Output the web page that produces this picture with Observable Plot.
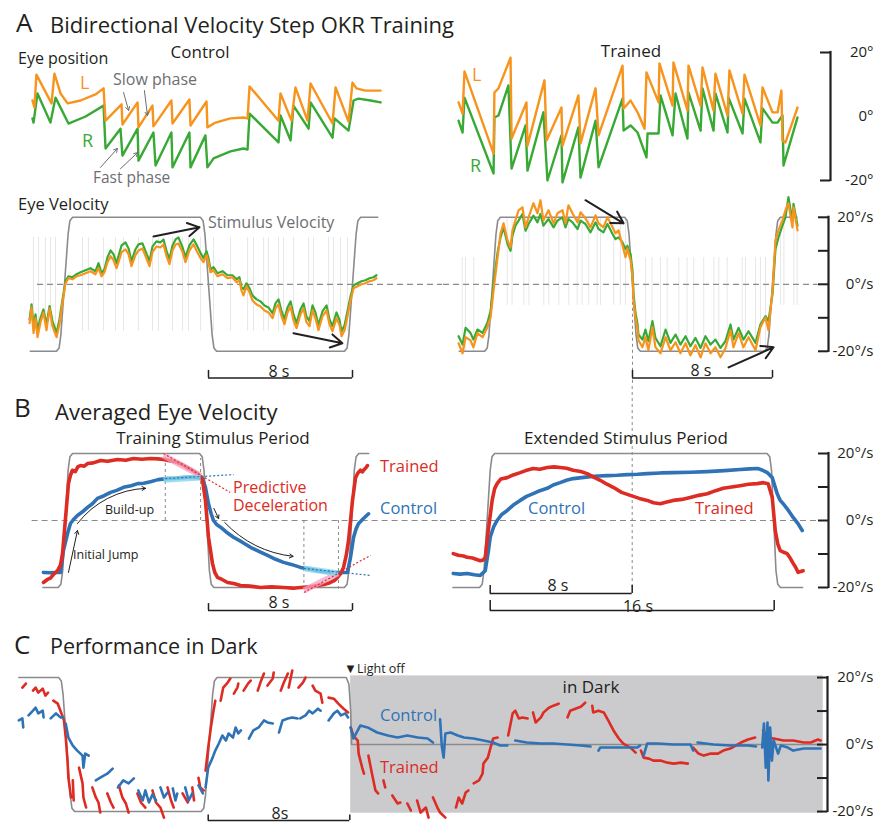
<!DOCTYPE html>
<html><head><meta charset="utf-8">
<script src="https://cdn.jsdelivr.net/npm/d3@7"></script>
<script src="https://cdn.jsdelivr.net/npm/@observablehq/plot@0.6"></script>
<style>
body{margin:0;background:#fff;}
#fig{position:relative;width:878px;height:823px;overflow:hidden;background:#fff;font-family:'Open Sans',sans-serif;color:#231f20;}
#fig svg{position:absolute;}
.t{position:absolute;white-space:pre;line-height:1;}
</style></head><body><div id="fig"></div>
<script>
// ---------- colours ----------
const INK='#231f20', ORANGE='#f7941d', GREEN='#39a935', RED='#dd2c24', BLUE='#2f73b6',
      STIM='#8a8b8d', GRAYTXT='#6d6e71', RAW='#e7e7e7', DARK='#cbcbce', PINK='#f5a0c4', CYAN='#86d6ee';

// ---------- A: eye position (time s, position deg) ----------
const posCtlL=[[-1.78,5.0],[-1.67,2.8],[-1.56,13.1],[-0.72,4.1],[-0.56,13.4],[-0.22,7.2],[0.17,4.1],[0.89,5.0],[1.72,6.9],[2.17,8.8],[2.28,-1.3],[3.17,3.8],[3.22,-2.5],[4.06,4.4],[4.11,-3.4],[4.89,3.4],[4.94,-3.1],[5.94,5.0],[6.0,-2.2],[6.94,5.3],[7.0,-2.8],[7.89,4.7],[7.94,-3.4],[8.39,-1.9],[9.22,-0.6],[9.94,-0.3],[10.17,-0.6],[10.28,9.4],[11.89,-1.3],[12.0,7.2],[12.61,-1.3],[12.83,9.1],[13.5,-1.3],[13.67,10.3],[14.89,-2.2],[15.06,9.1],[15.78,-1.6],[16.0,10.6],[16.22,8.8],[16.72,8.1],[17.56,8.1]];
const posCtlR=[[-1.78,-0.6],[-1.72,-1.9],[-1.5,7.2],[-0.78,-1.9],[-0.5,5.9],[0.22,-2.2],[1.17,0],[2.17,3.4],[2.28,-10.0],[3.11,-3.8],[3.22,-12.2],[4.06,-3.8],[4.11,-13.8],[4.94,-5.0],[5.06,-15.3],[5.94,-5.0],[6.0,-15.9],[6.94,-5.0],[7.0,-15.9],[7.83,-5.9],[7.94,-15.9],[8.28,-13.1],[9.22,-10.9],[9.94,-10.0],[10.17,-10.3],[10.28,0.9],[11.89,-8.1],[12.0,0.3],[12.56,-7.5],[12.72,3.4],[13.56,-3.8],[13.67,4.4],[14.89,-6.6],[15.0,-0.6],[15.78,-4.4],[16.06,5.0],[16.33,5.6],[17.0,5.0],[17.56,4.4]];
const posTrnL=[[-1.94,4.4],[-1.71,0.9],[-1.6,14.1],[0.06,-11.6],[0.11,7.5],[0.34,8.8],[1.03,18.4],[1.09,-6.9],[1.94,4.4],[2.0,-9.1],[2.97,11.3],[3.09,-7.5],[3.94,2.8],[4.0,-9.1],[4.91,6.6],[5.03,-8.4],[5.89,8.8],[6.06,-5.9],[7.43,15.9],[7.49,2.5],[7.89,5.0],[8.29,1.3],[8.69,-3.8],[8.8,13.8],[9.49,4.4],[9.54,16.6],[10.29,3.4],[10.34,16.9],[11.14,1.9],[11.2,15.9],[11.89,3.4],[12.0,15.3],[12.63,1.9],[12.74,13.4],[13.43,0.3],[13.54,14.4],[14.29,0.9],[14.4,13.1],[15.31,-2.8],[15.43,9.1],[16.0,1.3],[16.29,1.3],[16.51,8.1],[16.57,-7.5],[16.74,-8.1],[17.43,2.8]];
const posTrnR=[[-1.94,-1.3],[-1.71,-5.0],[-1.6,5.9],[0.06,-17.8],[0.11,-0.3],[0.34,0.3],[0.91,9.7],[1.09,-16.3],[1.89,-2.8],[2.0,-16.9],[2.91,1.3],[3.14,-20.0],[3.94,-5.9],[4.0,-20.6],[4.91,-3.4],[5.03,-19.1],[5.89,-1.3],[6.06,-15.9],[7.43,5.6],[7.49,-4.4],[7.89,-2.8],[8.29,-5.0],[8.8,-12.8],[8.86,-5.3],[9.49,-5.3],[9.6,6.6],[10.29,-5.9],[10.46,7.2],[11.14,-6.9],[11.2,7.5],[11.89,-4.4],[12.0,8.8],[12.63,-4.4],[12.74,7.2],[13.43,-5.0],[13.49,5.9],[14.29,-5.3],[14.4,5.6],[15.31,-8.1],[15.43,2.5],[16.0,-1.9],[16.29,-1.9],[16.57,0.3],[16.63,-15.3],[17.43,-0.3]];
const posArrows=[{x1:3.28,y1:7.5,x2:3.56,y2:1.9},{x1:4.44,y1:8.1,x2:4.61,y2:0.3},{x1:2.0,y1:-15.9,x2:2.94,y2:-10.0},{x1:3.11,y1:-16.3,x2:4.06,y2:-11.3}];
const posTicks=[20,-20], posLabels=[20,0,-20];

// ---------- A: eye velocity (time s, deg/s) ----------
const stimA=[[-1.9,-20],[-0.45,-20],[-0.3,-19],[-0.2,-15],[0.2,15],[0.3,19],[0.45,20],[7.55,20],[7.7,19],[7.8,15],[8.2,-15],[8.3,-19],[8.45,-20],[15.55,-20],[15.7,-19],[15.8,-15],[16.2,15],[16.3,19],[16.45,20],[17.4,20]];
const velCtlO=[[-1.94,-11.6],[-1.83,-6.9],[-1.72,-14.6],[-1.61,-10.1],[-1.5,-15.8],[-1.33,-11.3],[-1.17,-8.4],[-1.0,-13.7],[-0.83,-7.2],[-0.67,-12.5],[-0.44,-15.8],[-0.28,-11.9],[-0.11,-5.4],[0.06,0.3],[0.22,1.8],[0.44,1.5],[0.67,2.4],[0.89,2.7],[1.17,3.3],[1.44,3.9],[1.72,3.0],[1.89,4.8],[2.06,2.4],[2.22,3.6],[2.39,6.6],[2.56,8.4],[2.72,7.2],[2.89,4.8],[3.0,6.6],[3.17,9.6],[3.39,10.4],[3.56,9.0],[3.72,5.4],[3.94,8.7],[4.11,10.1],[4.33,10.7],[4.5,8.4],[4.72,5.4],[4.89,9.6],[5.11,11.3],[5.33,11.0],[5.5,11.9],[5.67,8.4],[5.83,6.0],[6.0,10.1],[6.17,11.9],[6.33,12.2],[6.56,9.6],[6.72,6.6],[6.94,10.1],[7.17,11.9],[7.33,10.1],[7.56,7.8],[7.72,6.6],[7.89,8.7],[8.0,6.6],[8.11,3.6],[8.28,4.2],[8.5,2.4],[8.78,3.0],[9.06,1.8],[9.33,2.1],[9.56,0.6],[9.72,1.2],[9.83,-1.8],[9.94,-3.3],[10.11,-0.6],[10.28,-2.4],[10.44,-4.8],[10.67,-6.0],[10.89,-6.6],[11.11,-7.8],[11.33,-8.4],[11.56,-10.1],[11.72,-7.2],[11.89,-6.0],[12.06,-9.6],[12.22,-11.9],[12.39,-8.4],[12.56,-6.6],[12.72,-10.7],[12.89,-13.1],[13.11,-9.0],[13.28,-7.2],[13.44,-11.3],[13.61,-12.5],[13.78,-7.8],[13.94,-10.1],[14.11,-13.7],[14.33,-9.6],[14.56,-7.8],[14.72,-11.9],[14.89,-14.0],[15.11,-10.1],[15.28,-12.2],[15.39,-15.5],[15.56,-13.7],[15.72,-9.6],[15.89,-4.8],[16.06,-1.2],[16.28,-0.6],[16.5,0],[16.72,0.3],[16.94,0.9],[17.17,1.2],[17.33,1.8]];
const velCtlG=[[-1.94,-10.5],[-1.83,-6.0],[-1.72,-12.8],[-1.61,-9.0],[-1.5,-13.5],[-1.33,-10.0],[-1.17,-7.5],[-1.0,-12.0],[-0.83,-6.5],[-0.67,-11.0],[-0.44,-14.5],[-0.28,-10.5],[-0.11,-4.5],[0.06,1.0],[0.22,2.4],[0.44,2.1],[0.67,3.0],[0.89,3.6],[1.17,4.2],[1.44,4.8],[1.72,3.9],[1.89,6.3],[2.06,3.3],[2.22,4.5],[2.39,8.1],[2.56,10.1],[2.72,9.0],[2.89,6.3],[3.0,8.4],[3.17,11.6],[3.39,12.5],[3.56,10.7],[3.72,6.9],[3.94,10.4],[4.11,11.9],[4.33,12.2],[4.5,9.9],[4.72,6.9],[4.89,11.3],[5.11,12.8],[5.33,12.5],[5.5,13.4],[5.67,9.9],[5.83,7.5],[6.0,11.6],[6.17,13.4],[6.33,14.0],[6.56,11.0],[6.72,8.1],[6.94,11.6],[7.17,13.4],[7.33,11.9],[7.56,9.3],[7.72,7.8],[7.89,9.9],[8.0,7.8],[8.11,4.5],[8.28,5.1],[8.5,3.3],[8.78,3.9],[9.06,2.7],[9.33,2.7],[9.56,1.5],[9.72,2.1],[9.83,-0.9],[9.94,-1.5],[10.11,0.3],[10.28,-1.2],[10.44,-3.3],[10.67,-4.5],[10.89,-5.1],[11.11,-6.3],[11.33,-6.9],[11.56,-8.7],[11.72,-5.7],[11.89,-4.5],[12.06,-8.1],[12.22,-10.4],[12.39,-6.9],[12.56,-5.1],[12.72,-9.0],[12.89,-11.6],[13.11,-7.5],[13.28,-5.7],[13.44,-9.6],[13.61,-11.0],[13.78,-6.3],[13.94,-8.4],[14.11,-12.2],[14.33,-8.1],[14.56,-6.3],[14.72,-10.4],[14.89,-12.5],[15.11,-8.4],[15.28,-10.7],[15.39,-14.0],[15.56,-12.2],[15.72,-8.1],[15.89,-3.6],[16.06,-0.3],[16.28,0.3],[16.5,0.9],[16.72,1.2],[16.94,1.8],[17.17,2.1],[17.33,2.7]];
const velTrnO=[[-1.94,-17.6],[-1.71,-20.6],[-1.54,-15.8],[-1.26,-16.7],[-1.09,-18.8],[-0.86,-14.6],[-0.57,-15.8],[-0.29,-12.8],[-0.11,-9.9],[0.06,-1.8],[0.29,8.1],[0.46,15.2],[0.63,18.2],[0.86,13.1],[1.03,11.0],[1.14,16.1],[1.31,19.1],[1.49,22.1],[1.71,23.0],[1.89,17.0],[2.06,20.0],[2.34,24.2],[2.57,21.2],[2.74,25.1],[2.91,19.1],[3.2,22.1],[3.49,18.2],[3.71,21.2],[4.0,22.1],[4.17,18.2],[4.34,23.6],[4.57,21.2],[4.86,18.5],[5.03,21.5],[5.31,19.7],[5.6,17.0],[5.89,20.6],[6.06,18.2],[6.34,17.0],[6.57,20.0],[6.86,17.0],[7.03,15.2],[7.2,16.1],[7.43,11.6],[7.6,8.1],[7.71,10.7],[7.77,9.3],[7.89,7.2],[8.0,2.1],[8.06,-4.8],[8.17,-9.9],[8.29,-13.7],[8.34,-16.7],[8.57,-18.8],[8.74,-15.8],[8.91,-19.7],[9.14,-12.8],[9.31,-18.8],[9.6,-20.6],[9.89,-15.8],[10.17,-19.7],[10.46,-17.3],[10.74,-20.6],[11.03,-17.6],[11.31,-21.2],[11.6,-18.2],[11.89,-21.8],[12.17,-17.6],[12.46,-20.6],[12.74,-18.8],[13.03,-21.8],[13.31,-19.1],[13.6,-13.7],[13.77,-18.8],[14.06,-14.6],[14.34,-18.8],[14.63,-15.8],[15.03,-19.7],[15.31,-12.8],[15.6,-9.9],[15.77,-13.7],[16.0,-1.8],[16.17,13.1],[16.34,16.1],[16.57,19.1],[16.74,22.1],[16.91,24.2],[17.14,17.0],[17.2,23.0],[17.43,16.1]];
const velTrnG=[[-1.94,-15.5],[-1.71,-18.0],[-1.54,-13.0],[-1.26,-14.5],[-1.09,-16.5],[-0.86,-13.5],[-0.57,-14.5],[-0.29,-11.5],[-0.11,-8.0],[0.06,0],[0.29,9.5],[0.46,14.0],[0.63,17.0],[0.86,12.0],[1.03,10.0],[1.14,14.5],[1.31,17.5],[1.49,19.0],[1.71,21.0],[1.89,16.0],[2.06,18.0],[2.34,20.5],[2.57,18.5],[2.74,21.0],[2.91,17.5],[3.2,19.5],[3.49,17.0],[3.71,19.0],[4.0,20.0],[4.17,17.0],[4.34,19.5],[4.57,18.5],[4.86,16.5],[5.03,19.0],[5.31,18.0],[5.6,15.5],[5.89,18.5],[6.06,16.5],[6.34,15.5],[6.57,18.0],[6.86,15.0],[7.03,13.5],[7.2,14.0],[7.43,12.5],[7.6,10.5],[7.71,11.5],[7.77,10.5],[7.89,9.0],[8.0,4.0],[8.06,-3.0],[8.17,-8.5],[8.29,-12.0],[8.34,-15.0],[8.57,-16.5],[8.74,-13.5],[8.91,-17.0],[9.14,-11.0],[9.31,-16.0],[9.6,-18.5],[9.89,-13.5],[10.17,-17.5],[10.46,-15.0],[10.74,-18.0],[11.03,-15.5],[11.31,-18.5],[11.6,-16.0],[11.89,-19.0],[12.17,-15.5],[12.46,-18.0],[12.74,-16.5],[13.03,-19.0],[13.31,-17.0],[13.6,-12.0],[13.77,-16.5],[14.06,-13.0],[14.34,-16.5],[14.63,-14.0],[15.03,-17.5],[15.31,-12.0],[15.6,-9.5],[15.77,-11.0],[16.0,-3.0],[16.17,10.5],[16.34,14.0],[16.57,17.5],[16.74,20.0],[16.91,26.0],[17.14,19.0],[17.2,24.0],[17.43,17.5]];
const rawCtl=[-1.72,-1.44,-1.06,-0.78,-0.5,1.0,1.33,2.17,2.83,3.28,4.11,4.89,5.22,6.0,6.56,6.89,7.56,8.28,9.22,10.17,10.5,11.06,11.33,11.89,12.17,12.72,13.56,13.83,14.67,14.94,15.33,15.72];
const rawTrnHigh=[0.84,1.12,1.79,2.08,2.93,3.22,3.79,4.36,4.84,5.12,5.5,5.98,6.17,6.93,7.31,7.6,16.46,16.65,17.22,17.41];
const rawTrnLow=[-1.73,-1.54,-1.07,8.74,9.12,9.6,9.98,10.65,11.12,11.5,12.07,12.65,12.93,13.41,14.27,14.46,15.03,15.31,15.6];
const arrowsCtl=[{x1:4.94,y1:14.3,x2:7.5,y2:17.0},{x1:12.72,y1:-14.6,x2:15.44,y2:-17.6}];
const arrowsTrn=[{x1:5.31,y1:25.1,x2:7.49,y2:18.2},{x1:13.49,y1:-24.8,x2:16.06,y2:-18.8}];
const barA=[{t1:8,t2:16,v:-28,tick:-25.7}];
const velTicks=[20,10,0,-10,-20], velLabels=[20,0,-20];

// ---------- B: averaged eye velocity ----------
const stimB1=[[-1.2,-20],[-0.35,-20],[-0.2,-19],[-0.1,-15],[0.2,15],[0.3,19],[0.45,20],[7.5,20],[7.65,19],[7.75,15],[8.05,-15],[8.15,-19],[8.3,-20],[15.55,-20],[15.7,-19],[15.8,-15],[16.1,15],[16.2,19],[16.35,20],[16.9,20]];
const bTrained1=[[-1.17,-18.5],[-0.95,-17.6],[-0.78,-17.2],[-0.6,-16.0],[-0.39,-15.0],[-0.22,-13.2],[-0.11,-9.9],[0.06,0.9],[0.22,11.0],[0.33,13.5],[0.44,15.0],[0.6,14.6],[0.75,16.1],[0.89,16.4],[1.1,16.2],[1.28,17.0],[1.6,17.2],[2.0,17.9],[2.4,17.7],[2.94,18.2],[3.4,18.0],[3.83,18.5],[4.3,18.3],[4.78,18.5],[5.2,18.4],[5.5,18.2],[5.9,17.8],[6.28,17.3],[6.6,16.5],[6.83,15.8],[7.1,15.0],[7.39,14.0],[7.55,13.2],[7.67,12.0],[7.83,6.0],[8.0,-5.0],[8.22,-12.8],[8.35,-15.5],[8.5,-17.0],[8.75,-17.6],[9.06,-18.5],[9.4,-18.8],[9.78,-19.4],[10.3,-19.6],[10.89,-20.0],[11.5,-19.8],[12.17,-20.0],[12.7,-20.2],[13.11,-20.0],[13.6,-19.8],[14.06,-19.4],[14.5,-19.0],[14.78,-18.5],[15.0,-17.9],[15.17,-17.0],[15.35,-15.8],[15.5,-14.0],[15.65,-10.5],[15.78,-6.0],[16.0,6.0],[16.17,12.8],[16.3,14.2],[16.44,15.0],[16.55,14.5],[16.61,15.0],[16.72,15.6],[16.83,16.4]];
const bControl1=[[-1.17,-15.5],[-0.8,-15.6],[-0.5,-15.5],[-0.22,-15.5],[-0.06,-9.0],[0.17,-3.9],[0.33,-0.9],[0.5,0.3],[0.72,1.5],[1.0,2.6],[1.28,3.9],[1.55,5.0],[1.83,6.6],[2.2,7.4],[2.56,8.4],[2.9,9.0],[3.28,9.9],[3.7,10.4],[4.06,11.0],[4.4,11.1],[4.78,11.6],[5.2,12.2],[5.72,12.5],[6.2,12.6],[6.61,12.8],[7.0,12.9],[7.39,12.8],[7.67,12.5],[7.83,9.9],[8.0,5.0],[8.15,2.0],[8.28,0],[8.45,-1.2],[8.67,-2.0],[9.0,-3.5],[9.39,-5.0],[9.85,-6.4],[10.33,-8.0],[10.8,-9.2],[11.28,-10.4],[11.7,-11.5],[12.17,-12.5],[12.6,-13.1],[13.11,-14.0],[13.6,-14.5],[14.06,-15.0],[14.5,-15.3],[14.94,-15.5],[15.3,-15.5],[15.72,-15.5],[15.89,-11.0],[16.06,-5.0],[16.2,-2.5],[16.33,-1.0],[16.61,0.6],[16.89,2.0]];
const stimB2=[[-2.1,-20],[-0.6,-20],[-0.45,-19],[-0.35,-15],[0.0,15],[0.1,19],[0.25,20],[15.6,20],[15.75,19],[15.85,15],[16.1,-15],[16.2,-19],[16.35,-20],[17.6,-20]];
const bTrained2=[[-2.08,-9.9],[-1.8,-10.4],[-1.5,-10.6],[-1.3,-11.0],[-1.0,-11.2],[-0.56,-12.0],[-0.4,-11.8],[-0.28,-11.0],[-0.11,-3.0],[0.11,6.0],[0.25,9.5],[0.39,11.0],[0.6,12.4],[0.96,12.8],[1.3,13.6],[1.69,14.3],[2.0,14.9],[2.42,15.5],[2.8,15.3],[3.21,15.8],[3.6,16.0],[3.94,15.8],[4.3,15.6],[4.68,15.0],[5.1,14.6],[5.46,14.0],[5.8,13.0],[6.2,12.0],[6.55,10.9],[6.93,9.9],[7.4,8.4],[7.89,7.5],[8.4,6.6],[8.85,6.0],[9.2,5.3],[9.58,5.0],[9.95,5.5],[10.31,6.0],[10.8,6.3],[11.27,6.9],[11.75,7.5],[12.23,8.0],[12.7,8.9],[13.13,9.6],[13.6,10.0],[14.08,10.4],[14.55,10.8],[15.04,11.0],[15.4,11.3],[15.66,11.0],[15.89,6.9],[16.06,-3.0],[16.2,-7.0],[16.34,-9.0],[16.5,-9.4],[16.73,-9.9],[16.9,-11.2],[17.07,-12.8],[17.2,-13.9],[17.35,-15.5],[17.5,-15.2],[17.63,-15.0]];
const bControl2=[[-2.08,-15.8],[-1.7,-16.0],[-1.3,-15.8],[-0.9,-16.2],[-0.56,-16.4],[-0.28,-15.0],[-0.1,-9.0],[0,-5.0],[0.2,-1.8],[0.39,0],[0.65,1.8],[0.96,3.0],[1.3,4.6],[1.69,6.0],[2.05,7.2],[2.42,8.0],[2.8,8.9],[3.21,9.6],[3.55,10.6],[3.94,11.3],[4.3,12.0],[4.68,12.5],[5.15,12.8],[5.63,13.1],[6.1,13.3],[6.59,13.4],[7.15,13.5],[7.72,13.7],[8.3,13.8],[8.85,14.0],[9.6,14.2],[10.31,14.3],[11.3,14.4],[12.23,14.6],[13.2,14.9],[14.08,15.2],[14.6,15.4],[15.1,15.5],[15.35,15.0],[15.61,14.3],[15.89,12.8],[16.17,8.0],[16.34,6.0],[16.51,5.0],[16.8,3.0],[17.07,0.9],[17.35,-1.0],[17.58,-3.0]];
const bDashV=[{t:5.6,v1:0,v2:19},{t:7.56,v1:0,v2:18.5},{t:13.3,v1:0,v2:-20.5},{t:15.22,v1:0,v2:-20.5}];
const pinkSegs=[{x1:5.5,y1:19.4,x2:7.56,y2:13.4},{x1:13.3,y1:-20.9,x2:15.2,y2:-15.8}];
const cyanSegs=[{x1:5.5,y1:12.2,x2:7.56,y2:12.8},{x1:13.3,y1:-14.3,x2:15.2,y2:-15.8}];
const redTan=[{x1:5.5,y1:20,x2:9.2,y2:8.4},{x1:13.3,y1:-21.5,x2:17.0,y2:-10.4}];
const blueTan=[{x1:5.6,y1:12.5,x2:9.4,y2:13.7},{x1:13.3,y1:-14.3,x2:17.0,y2:-16.4}];
const buildUp=[{x1:0.72,y1:-0.9,x2:4.5,y2:9.6}];
const straightB=[{x1:0.22,y1:-15.5,x2:0.72,y2:-3.0},{x1:8.3,y1:3.6,x2:8.56,y2:0.6}];
const decline=[{x1:8.9,y1:-0.6,x2:12.7,y2:-10.7}];
const barB1=[{t1:8,t2:16,v:-26.9,tick:-24.8}];
const barB2=[{t1:0,t2:8,v:-21.8,tick:-19.4},{t1:0,t2:16,v:-26.9,tick:-23.9}];
const verticalT=[8];

// ---------- C: performance in dark ----------
const stimC=[[-2.7,20],[-0.45,20],[-0.3,19],[-0.2,15],[0.2,-15],[0.3,-19],[0.45,-20],[7.6,-20],[7.75,-19],[7.85,-15],[8.25,15],[8.35,19],[8.5,20],[15.8,20],[15.95,18],[16.05,10],[16.1,0],[42.7,0]];
const darkPeriod=[{x1:16.05,x2:42.75,y1:-20.5,y2:20.5}];
const cTrained=[[-2.5,17.0],[-2.3,18.2],null,[-1.9,16.1],[-1.75,17.0],[-1.6,15.5],[-1.35,16.7],[-1.2,14.6],[-1.05,15.5],null,[-0.75,13.1],[-0.5,12.2],[-0.35,10.1],[-0.25,8.7],[-0.15,7.2],[-0.05,2.1],[0.05,-4.8],[0.1,-9.9],[0.25,-15.8],null,[0.35,-10.7],[0.4,-16.7],null,[0.7,-6.9],[0.9,-11.6],[0.95,-15.8],[1.1,-18.8],null,[1.45,-12.8],[1.65,-15.8],[1.8,-17.3],[1.9,-20.3],null,[2.3,-14.6],[2.5,-17.3],[2.65,-18.8],null,[2.95,-12.2],[3.15,-15.8],[3.35,-17.6],[3.5,-20.3],null,[4.0,-14.6],[4.2,-17.3],[4.45,-18.8],null,[4.85,-13.7],[5.05,-17.3],[5.3,-18.8],[5.5,-21.8],null,[5.7,-12.8],[5.9,-16.7],[6.05,-18.8],null,[6.55,-14.6],[6.85,-17.3],null,[7.1,-12.8],[7.2,-16.7],null,[7.45,-9.9],[7.55,-12.8],[7.75,-13.7],null,[7.85,-7.8],[8.0,-0.9],[8.15,5.1],[8.3,10.1],[8.4,13.1],null,[8.7,13.1],[8.85,17.0],[9.1,18.5],[9.25,19.7],null,[9.45,15.2],[9.65,17.0],[9.7,18.2],null,[10.0,16.1],[10.25,18.2],[10.4,19.1],null,[10.8,16.1],[10.95,18.5],[11.15,21.2],null,[11.35,17.6],[11.65,19.7],[11.7,21.5],null,[12.1,16.1],[12.25,18.2],[12.5,21.2],null,[12.55,17.0],[12.75,22.1],null,[13.1,17.0],[13.35,18.5],[13.5,20.0],null,[13.9,17.6],[14.05,16.1],[14.35,15.2],[14.45,12.5],null,[14.8,14.0],[15.1,13.7],[15.35,12.2],[15.65,10.7],[15.9,9.6],null,[16.05,5.1],[16.2,2.7],[16.45,1.2],[16.5,-2.7],[16.7,-6.9],[16.8,-8.7],null,[17.05,-3.3],[17.3,-9.9],[17.45,-13.7],[17.6,-14.6],null,[17.9,-10.7],[18.0,-12.8],null,[18.4,-15.2],[18.7,-17.6],[18.85,-17.3],null,[19.25,-17.6],[19.45,-19.7],null,[19.8,-16.7],[20.0,-20.3],[20.3,-18.8],[20.45,-21.8],null,[20.7,-15.8],[20.95,-18.8],[21.1,-20.3],[21.4,-21.8],null,[22.0,-18.8],[22.15,-15.8],[22.35,-17.6],[22.55,-14.3],[22.7,-13.7],null,[23.0,-11.6],[23.3,-10.7],[23.5,-8.7],[23.55,-5.7],[23.8,-3.9],[23.95,-0.9],[24.1,1.8],[24.35,2.1],null,[24.95,2.7],[25.2,9.3],[25.35,10.1],[25.55,7.8],[25.75,8.1],[26.05,7.8],null,[26.35,9.6],[26.5,6.6],[26.8,8.1],[26.95,9.6],[27.25,11.0],[27.5,11.6],[27.8,12.2],null,[28.3,8.1],[28.45,10.1],[28.75,10.7],[29.05,11.3],[29.3,12.5],null,[29.7,11.6],[29.75,9.6],[30.05,10.1],[30.35,9.6],[30.6,7.2],[30.9,4.2],[31.2,1.8],[31.45,0.3],[31.85,-0.9],[32.15,-2.4],null,[32.45,-1.8],[32.6,-3.9],[32.9,-4.2],[33.15,-4.8],[33.55,-4.8],[33.95,-5.4],[34.3,-5.7],[34.7,-5.4],[35.1,-5.7],null,[35.4,-0.9],[35.7,-2.7],[36.0,-3.3],[36.4,-2.7],[36.8,-2.7],[37.1,-1.8],[37.5,-1.2],[37.8,-0.3],[38.1,0.6],[38.5,1.5],[38.9,2.1],null,[39.35,4.2],[39.6,2.1],[39.95,1.8],[40.5,1.2],[41.05,1.2],[41.65,0.6],[42.05,0.6],[42.45,1.5],[42.6,1.2]];
const cControl=[[-2.7,7.2],[-2.5,7.8],[-2.45,5.1],null,[-2.15,8.7],[-1.9,10.1],[-1.75,11.0],[-1.6,9.3],[-1.35,10.1],[-1.3,8.1],null,[-0.9,7.8],[-0.6,9.3],[-0.35,8.1],[-0.2,8.1],null,[-0.05,6.3],[0.1,2.1],[0.35,-0.3],[0.6,-1.8],[0.9,-3.3],[0.95,-6.9],[1.05,-2.7],[1.25,-3.3],null,[1.65,-10.7],[1.9,-9.9],[2.3,-8.7],[2.6,-7.2],null,[2.9,-12.8],[3.2,-10.7],[3.5,-11.6],[3.8,-10.1],null,[4.05,-13.7],[4.3,-16.7],[4.45,-13.7],[4.65,-17.3],[4.85,-14.9],[5.05,-16.7],null,[5.3,-12.8],[5.5,-15.8],[5.7,-14.3],null,[6.0,-13.1],[6.15,-16.7],[6.25,-14.6],null,[6.7,-12.8],[6.9,-16.7],[7.1,-14.6],null,[7.45,-12.2],[7.7,-14.6],null,[7.85,-12.8],[8.0,-6.9],[8.25,-3.9],[8.4,-1.8],[8.6,0.3],[8.8,2.7],[9.0,1.2],[9.15,3.3],[9.4,2.1],[9.55,5.1],[9.7,3.3],[9.85,4.2],null,[10.3,1.8],[10.55,4.2],[10.85,5.1],[11.15,7.2],[11.35,6.6],[11.65,6.3],null,[12.0,3.6],[12.2,7.2],[12.5,7.8],[12.75,8.1],[13.05,7.8],null,[13.2,7.8],[13.5,8.7],[13.7,10.1],[13.9,9.3],[14.2,10.7],[14.35,10.1],null,[14.8,7.2],[15.1,9.3],[15.3,10.1],[15.5,8.7],[15.75,9.3],[15.9,8.1],null,[16.05,5.1],[16.2,1.8],[16.45,4.2],[16.6,5.7],[17.0,5.1],[17.55,3.6],[18.15,2.7],[18.7,2.1],[19.25,2.7],[19.85,2.1],[20.4,1.8],[20.7,0.6],null,[21.1,7.5],[21.2,-0.5],[21.3,-3.9],[21.4,3.3],[21.7,3.6],[22.1,2.7],[22.45,2.1],[23.0,1.8],[23.55,1.2],[24.1,0.6],[24.5,-0.3],[24.9,-0.3],null,[25.35,1.2],[26.0,0.6],[26.8,0.3],[27.5,0.3],[28.3,0],[29.05,-0.3],[29.6,-0.6],null,[30.05,-1.8],[30.15,-0.9],[30.9,-0.9],[31.7,-0.9],[32.25,-0.9],[32.4,-0.3],null,[32.6,-3.3],[32.8,0.3],[33.4,0.3],[34.3,0],[35.25,0],[35.4,-1.8],null,[35.65,0.6],[36.55,0],[37.5,-0.3],[38.5,-0.3],[38.95,-0.6],null,[39.3,-0.9],[39.4,6.3],[39.5,-6.9],[39.6,6.6],[39.65,-10.7],[39.75,5.1],[39.85,-4.8],[39.95,1.2],[40.2,-2.7],[40.35,-0.3],[40.75,-0.9],[41.05,-1.8],[41.65,-1.2],[42.2,-1.2],[42.6,-1.2]];
const barC=[{t1:8,t2:16,v:-22.7,tick:-21.0}];

// ---------- texts ----------
const texts=[
 {t:'A',x:16,y:22,s:26},
 {t:'Bidirectional Velocity Step OKR Training',x:50,y:24,s:22},
 {t:'Control',x:200,y:51,s:17,a:'m'},
 {t:'Trained',x:631,y:50,s:17,a:'m'},
 {t:'Eye position',x:18,y:58,s:16},
 {t:'L',x:80,y:82,s:18,c:ORANGE},
 {t:'R',x:82,y:140,s:18,c:GREEN},
 {t:'Slow phase',x:113,y:79,s:16,c:GRAYTXT},
 {t:'Fast phase',x:93,y:178,s:15.5,c:GRAYTXT},
 {t:'L',x:472,y:74,s:18,c:ORANGE},
 {t:'R',x:470,y:165,s:18,c:GREEN},
 {t:'Eye Velocity',x:18,y:204,s:16.5},
 {t:'Stimulus Velocity',x:208,y:222,s:16,c:GRAYTXT},
 {t:'8 s',x:279,y:371,s:16,a:'m'},
 {t:'8 s',x:701,y:370,s:16,a:'m'},
 {t:'B',x:14,y:407,s:26},
 {t:'Averaged Eye Velocity',x:55,y:411,s:22},
 {t:'Training Stimulus Period',x:213,y:437,s:17,a:'m'},
 {t:'Extended Stimulus Period',x:626,y:437,s:17,a:'m'},
 {t:'Trained',x:380,y:466,s:16.5,c:RED},
 {t:'Control',x:380,y:508,s:16.5,c:BLUE},
 {t:'Predictive\nDeceleration',x:233,y:497,s:16,c:RED,lh:1.1},
 {t:'Build-up',x:105,y:510,s:12.5},
 {t:'Initial Jump',x:73,y:555,s:12.5},
 {t:'Control',x:528,y:508,s:16.5,c:BLUE},
 {t:'Trained',x:695,y:508,s:16.5,c:RED},
 {t:'8 s',x:279,y:602,s:16,a:'m'},
 {t:'8 s',x:558,y:585,s:16,a:'m'},
 {t:'16 s',x:638,y:606,s:16,a:'m'},
 {t:'C',x:14,y:644,s:26},
 {t:'Performance in Dark',x:50,y:646,s:21.5},
 {t:'\u25BC',x:344,y:668,s:13},
 {t:'Light off',x:357,y:669,s:12.5},
 {t:'in Dark',x:591,y:686,s:17,a:'m'},
 {t:'Control',x:380,y:715,s:16.5,c:BLUE},
 {t:'Trained',x:380,y:767,s:16.5,c:RED},
 {t:'8s',x:280,y:813,s:16,a:'m'}
];

// ---------- helpers ----------
const fig=document.getElementById('fig');
const X=d=>d==null?NaN:d[0], Y=d=>d==null?NaN:d[1];
const FONT="'Open Sans',sans-serif";
function panel(o){
  const width=(o.x[1]-o.x[0])*o.pps, height=(o.y[1]-o.y[0])*o.ppu;
  const svg=Plot.plot({width,height,marginTop:0,marginBottom:0,marginLeft:0,marginRight:0,
    x:{domain:o.x,axis:null},y:{domain:o.y,axis:null},
    style:{background:'transparent',overflow:'visible',fontFamily:FONT},marks:o.marks});
  svg.style.left=(o.x0+o.x[0]*o.pps)+'px';
  svg.style.top=(o.y0-o.y[1]*o.ppu)+'px';
  fig.appendChild(svg);
}
function bracket(o){
  const height=(o.y[1]-o.y[0])*o.ppu;
  const svg=Plot.plot({width:60,height,marginTop:0,marginBottom:0,marginLeft:0,marginRight:50,
    x:{domain:[0,1],axis:null},y:{domain:o.y,axis:null},
    style:{background:'transparent',overflow:'visible',fontFamily:FONT},
    marks:[
      Plot.ruleY(o.ticks,{x1:0,x2:1,stroke:INK,strokeWidth:2}),
      Plot.ruleX([1],{y1:d3.min(o.ticks),y2:d3.max(o.ticks),stroke:INK,strokeWidth:2.2,strokeLinecap:'square'}),
      Plot.text(o.labels,{x:1,y:d=>d,text:o.fmt,textAnchor:'end',dx:o.dx,fontSize:15,fill:INK})
    ]});
  svg.style.left=o.left+'px';
  svg.style.top=(o.y0-o.y[1]*o.ppu)+'px';
  fig.appendChild(svg);
}
const bars=(b)=>[
  Plot.ruleY(b,{x1:'t1',x2:'t2',y:'v',stroke:INK,strokeWidth:1.5}),
  Plot.ruleX(b,{x:'t1',y1:'v',y2:'tick',stroke:INK,strokeWidth:1.5}),
  Plot.ruleX(b,{x:'t2',y1:'v',y2:'tick',stroke:INK,strokeWidth:1.5})];
const seg=(d,o)=>Plot.link(d,{x1:'x1',y1:'y1',x2:'x2',y2:'y2',...o});
const arr=(d,o)=>Plot.arrow(d,{x1:'x1',y1:'y1',x2:'x2',y2:'y2',...o});
const zeroDash=(a,b)=>Plot.ruleY([0],{x1:a,x2:b,stroke:STIM,strokeWidth:1.2,strokeDasharray:'6,4'});

// ---------- A: eye position ----------
panel({x0:64,pps:18,x:[-3,21],y0:116,ppu:3.2,y:[-25,25],marks:[
  Plot.line(posCtlR,{x:X,y:Y,stroke:GREEN,strokeWidth:2.4}),
  Plot.line(posCtlL,{x:X,y:Y,stroke:ORANGE,strokeWidth:2.4}),
  arr(posArrows,{stroke:GRAYTXT,strokeWidth:1,headLength:6})
]});
panel({x0:492,pps:17.5,x:[-2.8,18.5],y0:116,ppu:3.2,y:[-25,25],marks:[
  Plot.line(posTrnR,{x:X,y:Y,stroke:GREEN,strokeWidth:2.4}),
  Plot.line(posTrnL,{x:X,y:Y,stroke:ORANGE,strokeWidth:2.4})
]});
bracket({left:820,y0:116,ppu:3.2,y:[-25,25],ticks:posTicks,labels:posLabels,fmt:d=>d+'\u00B0',dx:43});

// ---------- A: eye velocity ----------
panel({x0:64,pps:18,x:[-3,21],y0:284,ppu:3.35,y:[-30,28],marks:[
  Plot.ruleX(rawCtl,{y1:-14,y2:14,stroke:RAW,strokeWidth:1}),
  zeroDash(-1.5,21),
  Plot.line(stimA,{x:X,y:Y,stroke:STIM,strokeWidth:1.6}),
  Plot.line(velCtlG,{x:X,y:Y,stroke:GREEN,strokeWidth:2.2}),
  Plot.line(velCtlO,{x:X,y:Y,stroke:ORANGE,strokeWidth:2.2}),
  arr(arrowsCtl,{stroke:INK,strokeWidth:2,headLength:10}),
  ...bars(barA)
]});
panel({x0:492,pps:17.5,x:[-2.8,21.8],y0:284,ppu:3.35,y:[-30,28],marks:[
  Plot.ruleX(rawTrnHigh,{y1:-6.3,y2:20,stroke:RAW,strokeWidth:1}),
  Plot.ruleX(rawTrnLow,{y1:-20,y2:8,stroke:RAW,strokeWidth:1}),
  zeroDash(-2.8,18.6),
  Plot.ruleX(verticalT,{y1:0,y2:-30,stroke:STIM,strokeWidth:1,strokeDasharray:'3,3'}),
  Plot.line(stimA,{x:X,y:Y,stroke:STIM,strokeWidth:1.6}),
  Plot.line(velTrnG,{x:X,y:Y,stroke:GREEN,strokeWidth:2.2}),
  Plot.line(velTrnO,{x:X,y:Y,stroke:ORANGE,strokeWidth:2.2}),
  arr(arrowsTrn,{stroke:INK,strokeWidth:2,headLength:10}),
  ...bars(barA)
]});
bracket({left:818,y0:284,ppu:3.35,y:[-30,28],ticks:velTicks,labels:velLabels,fmt:d=>d+'\u00B0/s',dx:45});

// ---------- B ----------
panel({x0:64,pps:18,x:[-3,21],y0:520,ppu:3.35,y:[-30,40],marks:[
  zeroDash(-1.8,21),
  Plot.ruleX(bDashV,{x:'t',y1:'v1',y2:'v2',stroke:STIM,strokeWidth:1,strokeDasharray:'3,3'}),
  Plot.line(stimB1,{x:X,y:Y,stroke:STIM,strokeWidth:1.6}),
  Plot.line(bControl1,{x:X,y:Y,stroke:BLUE,strokeWidth:3.6}),
  Plot.line(bTrained1,{x:X,y:Y,stroke:RED,strokeWidth:3.6}),
  seg(pinkSegs,{stroke:PINK,strokeWidth:6,strokeOpacity:0.75}),
  seg(cyanSegs,{stroke:CYAN,strokeWidth:6,strokeOpacity:0.8}),
  seg(redTan,{stroke:RED,strokeWidth:1.2,strokeDasharray:'2,2'}),
  seg(blueTan,{stroke:BLUE,strokeWidth:1.2,strokeDasharray:'2,2'}),
  arr(buildUp,{stroke:INK,strokeWidth:1,headLength:6,bend:25}),
  arr(straightB,{stroke:INK,strokeWidth:1,headLength:6}),
  arr(decline,{stroke:INK,strokeWidth:1,headLength:6,bend:-20}),
  ...bars(barB1)
]});
panel({x0:490,pps:17.75,x:[-2.8,18.75],y0:520,ppu:3.35,y:[-30,40],marks:[
  zeroDash(-2.8,18.6),
  Plot.ruleX(verticalT,{y1:40,y2:-20,stroke:STIM,strokeWidth:1,strokeDasharray:'3,3'}),
  Plot.line(stimB2,{x:X,y:Y,stroke:STIM,strokeWidth:1.6}),
  Plot.line(bControl2,{x:X,y:Y,stroke:BLUE,strokeWidth:3.6}),
  Plot.line(bTrained2,{x:X,y:Y,stroke:RED,strokeWidth:3.6}),
  ...bars(barB2)
]});
bracket({left:818,y0:520,ppu:3.35,y:[-30,40],ticks:velTicks,labels:velLabels,fmt:d=>d+'\u00B0/s',dx:45});

// ---------- C ----------
panel({x0:66,pps:17.7,x:[-3,43],y0:744,ppu:3.35,y:[-23.5,23],marks:[
  Plot.rect(darkPeriod,{x1:'x1',x2:'x2',y1:'y1',y2:'y2',fill:DARK}),
  Plot.line(stimC,{x:X,y:Y,stroke:STIM,strokeWidth:1.6}),
  Plot.line(cTrained,{x:X,y:Y,stroke:RED,strokeWidth:2.6}),
  Plot.line(cControl,{x:X,y:Y,stroke:BLUE,strokeWidth:2.6}),
  ...bars(barC)
]});
bracket({left:817,y0:744,ppu:3.35,y:[-23.5,23],ticks:velTicks,labels:velLabels,fmt:d=>d+'\u00B0/s',dx:46});

// ---------- text ----------
for(const d of texts){
  const el=document.createElement('div');
  el.className='t';
  el.textContent=d.t;
  el.style.left=d.x+'px'; el.style.top=d.y+'px';
  el.style.fontSize=d.s+'px';
  if(d.lh) el.style.lineHeight=d.lh;
  el.style.color=d.c||INK;
  el.style.transform=d.a==='m'?'translate(-50%,-50%)':'translate(0,-50%)';
  fig.appendChild(el);
}
</script></body></html>
